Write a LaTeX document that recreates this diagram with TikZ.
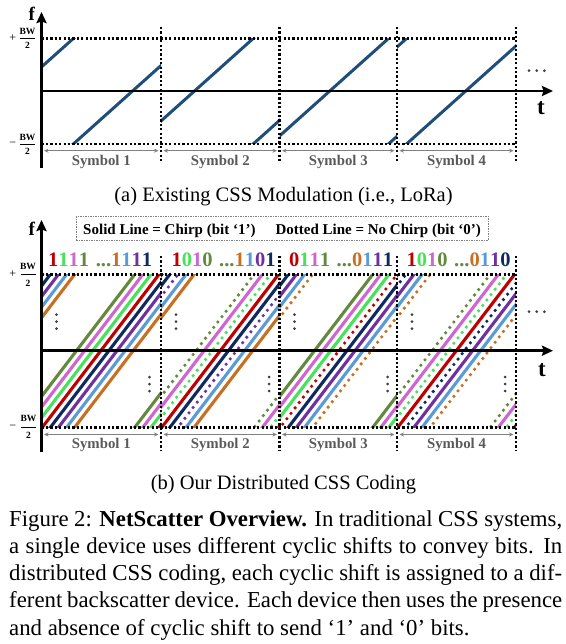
\documentclass[tikz,border=0pt]{standalone}
\usepackage{fontspec}
\setmainfont{Liberation Serif}
\usetikzlibrary{arrows.meta}
\definecolor{cred}{HTML}{C00000}
\definecolor{cgreen}{HTML}{45E35A}
\definecolor{cpink}{HTML}{CF66CF}
\definecolor{colive}{HTML}{638A3C}
\definecolor{corange}{HTML}{C96F22}
\definecolor{cblue}{HTML}{5B9BD5}
\definecolor{cpurple}{HTML}{7030A0}
\definecolor{cnavy}{HTML}{0D2B5E}
\definecolor{chirpblue}{HTML}{1F4E79}
\definecolor{labelgray}{HTML}{595959}
\definecolor{arrowgray}{HTML}{808080}
\definecolor{dotgray}{HTML}{3F3F3F}
\tikzset{
 gridline/.style={black, line width=2.4pt, dash pattern=on 2.3pt off 2.1pt},
 axisline/.style={black, line width=2.9pt, -{Stealth[length=11pt,width=10pt,inset=1.5pt]}},
 symarrow/.style={arrowgray, line width=1pt, {Stealth[length=4.5pt,width=4pt]}-{Stealth[length=4.5pt,width=4pt]}},
 symlabel/.style={text=labelgray, font=\fontsize{14.8}{16}\selectfont\bfseries, inner sep=0pt, anchor=base},
 chirpA/.style={chirpblue, line width=3pt},
 solidc/.style={line width=3.1pt},
 dotc/.style={line width=3.6pt, line cap=round, dash pattern=on 0pt off 6.8pt},
 bwlab/.style={font=\fontsize{9.5}{10}\selectfont\bfseries, inner sep=0pt},
 pluslab/.style={font=\fontsize{12}{12}\selectfont, inner sep=0pt},
 flab/.style={font=\fontsize{19}{20}\selectfont\bfseries, inner sep=0pt, anchor=base},
 tlab/.style={font=\fontsize{23}{25}\selectfont\bfseries, inner sep=0pt, anchor=base},
 bitlabel/.style={font=\fontsize{20.5}{22}\selectfont\bfseries, inner sep=0pt, anchor=base west},
 subcap/.style={font=\fontsize{20.5}{24}\selectfont, inner sep=0pt, anchor=base},
 capline/.style={font=\fontsize{22.8}{27.3}\selectfont, inner sep=0pt, anchor=base west},
 legendframe/.style={draw=arrowgray, line width=0.8pt, dash pattern=on 1.5pt off 1pt},
 legendtext/.style={font=\fontsize{15}{17}\selectfont\bfseries, inner sep=0pt, anchor=base},
}
% panel (a): one wrapped chirp per symbol
\newcommand{\achirp}[3]{%
  \begin{scope}
    \clip (#1,38.5) rectangle (#2,144);
    \foreach \m in {0,1} {
      \draw[chirpA] ({#1-5},{#3+(\m)*105.5+5*0.895}) -- ({#2+5},{#3+(\m)*105.5-(#2-#1+5)*0.895});
    }
  \end{scope}}
% panel (b): one wrapped chirp line (three copies, clipped outside)
\newcommand{\chirpline}[5]{%
  \foreach \m in {-1,0,1} {
    \draw[#1,draw=#2] ({#3-5},{#5+(\m)*153+5*1.31}) -- ({#4+5},{#5+(\m)*153-(#4-#3+5)*1.31});
  }}
\newcommand{\bsym}[3]{%
  \begin{scope}
    \clip (#1,274.3) rectangle (#2,427.3);
    \foreach \bt/\cl [count=\i from 0] in {#3} {
      \pgfmathsetmacro{\yst}{350.7+(35+8.1*\i)*1.31}
      \ifnum\bt=1 \chirpline{solidc}{\cl}{#1}{#2}{\yst}\else\chirpline{dotc}{\cl}{#1}{#2}{\yst}\fi
    }
  \end{scope}}
\newcommand{\bitlab}[8]{\textcolor{cred}{#1}\textcolor{cgreen}{#2}\textcolor{cpink}{#3}\textcolor{colive}{#4\hspace{1.5pt} ...}\textcolor{corange}{#5}\textcolor{cblue}{#6}\textcolor{cpurple}{#7}\textcolor{cnavy}{#8}}
\begin{document}
\begin{tikzpicture}[x=1pt,y=-1pt]
\useasboundingbox (0,0) rectangle (565,644);

% ================= panel (a) =================
\achirp{41.5}{161}{67}
\achirp{161}{279.5}{121}
\achirp{279.5}{397}{136}
\achirp{397}{516}{47}

\draw[gridline] (41.5,38.5) -- (516,38.5);
\draw[gridline] (41.5,144) -- (516,144);
\foreach \xx in {161,279.5,397,516} \draw[gridline] (\xx,27) -- (\xx,162);

\coordinate (aO) at (41.5,168);
\coordinate (aF) at (41.5,12);
\coordinate (aT0) at (40.1,91);
\coordinate (aT) at (553,91);
\draw[axisline] (aO) -- (aF);
\draw[axisline] (aT0) -- (aT);

\node[flab] (fa) at (31.7,21) {f};
\node[tlab] (ta) at (541,115) {t};

\node[pluslab] (plusa) at (12.7,38.5) {+};
\node[bwlab] (bwa1) at (27.5,31.7) {BW};
\node[bwlab] (twoa1) at (27.5,45.5) {2};
\draw[line width=0.8pt] (20,38.5) -- (35,38.5);
\node[pluslab] (minusa) at (12.7,144.5) {−};
\node[bwlab] (bwa2) at (27.5,137) {BW};
\node[bwlab] (twoa2) at (27.5,151.5) {2};
\draw[line width=0.8pt] (20,144.3) -- (35,144.3);

\foreach \xa/\xb [count=\k] in {41.5/161,161/279.5,279.5/397,397/516} {
  \draw[symarrow] ({\xa+2.5},150.7) -- ({\xb-2.5},150.7);
  \node[symlabel] (syma\k) at ({(\xa+\xb)/2},166) {Symbol \k};
}
\foreach \dx in {529,536.7,544.3} \fill[dotgray] (\dx,70.7) circle (1.5pt);

\node[subcap] (capa) at (283.5,201) {(a) Existing CSS Modulation (i.e., LoRa)};

% ================= panel (b) =================
\bsym{41.5}{161}{1/colive,1/cpink,1/cgreen,1/cred,1/cnavy,1/cpurple,1/cblue,1/corange}
\bsym{161}{279.5}{0/colive,1/cpink,0/cgreen,1/cred,1/cnavy,0/cpurple,1/cblue,1/corange}
\bsym{279.5}{397}{1/colive,1/cpink,1/cgreen,0/cred,1/cnavy,1/cpurple,1/cblue,0/corange}
\bsym{397}{516}{0/colive,1/cpink,0/cgreen,1/cred,0/cnavy,1/cpurple,1/cblue,0/corange}

\draw[gridline] (41.5,274.3) -- (516,274.3);
\draw[gridline] (41.5,427.3) -- (516,427.3);
\foreach \xx in {161,279.5,397,516} \draw[gridline] (\xx,256) -- (\xx,450);

\coordinate (bO) at (41.5,451.7);
\coordinate (bF) at (41.5,220);
\coordinate (bT0) at (40.1,350.7);
\coordinate (bT) at (553,350.7);
\draw[axisline] (bO) -- (bF);
\draw[axisline] (bT0) -- (bT);

\node[flab] (fb) at (31.7,235) {f};
\node[tlab] (tb) at (542,376) {t};

\node[pluslab] (plusb) at (12.7,274.3) {+};
\node[bwlab] (bwb1) at (28,266) {BW};
\node[bwlab] (twob1) at (28,283.5) {2};
\draw[line width=0.8pt] (20.5,274.3) -- (35.5,274.3);
\node[pluslab] (minusb) at (12.7,427.5) {−};
\node[bwlab] (bwb2) at (28.5,418) {BW};
\node[bwlab] (twob2) at (28.5,435.5) {2};
\draw[line width=0.8pt] (21,427.3) -- (36,427.3);

\coordinate (lg1) at (76,216);
\coordinate (lg2) at (488,240.7);
\draw[legendframe] (lg1) rectangle (lg2);
\node[legendtext] (legend) at (282,234.5) {Solid Line = Chirp (bit ‘1’)\hspace{20pt}Dotted Line = No Chirp (bit ‘0’)};

\node[bitlabel] (bits1) at (48,266) {\bitlab{1}{1}{1}{1}{1}{1}{1}{1}};
\node[bitlabel] (bits2) at (171.4,266) {\bitlab{1}{0}{1}{0}{1}{1}{0}{1}};
\node[bitlabel] (bits3) at (288.8,266) {\bitlab{0}{1}{1}{1}{0}{1}{1}{1}};
\node[bitlabel] (bits4) at (406.4,266) {\bitlab{1}{0}{1}{0}{0}{1}{1}{0}};

\foreach \xa/\xb [count=\k] in {41.5/161,161/279.5,279.5/397,397/516} {
  \draw[symarrow] ({\xa+2.5},434.5) -- ({\xb-2.5},434.5);
  \node[symlabel] (symb\k) at ({(\xa+\xb)/2},448) {Symbol \k};
  \foreach \yy in {314.7,321.7,328.7} \fill[dotgray] ({\xa+15},\yy) circle (1.5pt);
  \foreach \yy in {377,384,391} \fill[dotgray] ({\xa+108},\yy) circle (1.5pt);
}
\foreach \dx in {529,536.7,544.3} \fill[dotgray] (\dx,311.7) circle (1.5pt);

\node[subcap] (capb) at (283.5,489) {(b) Our Distributed CSS Coding};

% ================= figure caption =================
\node[capline] (cap1) at (9,526) {\makebox[553pt][s]{Figure 2: \textbf{NetScatter Overview.} In traditional CSS systems,}};
\node[capline] (cap2) at (9,553.3) {\makebox[553pt][s]{a single device uses different cyclic shifts to convey bits. In}};
\node[capline] (cap3) at (9,580.6) {\makebox[553pt][s]{distributed CSS coding, each cyclic shift is assigned to a dif-}};
\node[capline] (cap4) at (9,607.9) {\makebox[553pt][s]{ferent backscatter device. Each device then uses the presence}};
\node[capline] (cap5) at (9,635.2) {and absence of cyclic shift to send ‘1’ and ‘0’ bits.};
\end{tikzpicture}
\end{document}
